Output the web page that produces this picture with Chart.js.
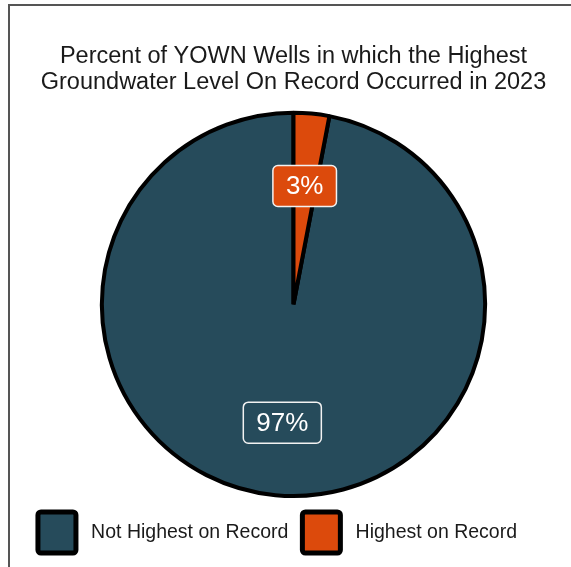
<!DOCTYPE html>
<html>
<head>
<meta charset="utf-8">
<script src="https://cdn.jsdelivr.net/npm/chart.js@4"></script>
<style>
  html, body { margin: 0; padding: 0; background: #fff; }
  #wrap { position: relative; width: 571px; height: 567px; }
  #frame {
    position: absolute; left: 8px; top: 4px; right: -10px; bottom: -10px;
    border-left: 2px solid #555; border-top: 2px solid #555;
  }
  canvas { position: absolute; left: 0; top: 0; }
</style>
</head>
<body>
<div id="wrap">
  <div id="frame"></div>
  <canvas id="pieChart" width="571" height="567"></canvas>
</div>
<script>
// Data
const categories = ["Not Highest on Record", "Highest on Record"];
const percents = [97, 3];
const sliceColors = ["#264b5b", "#dc4a0c"];
const titleLines = [
  "Percent of YOWN Wells in which the Highest",
  "Groundwater Level On Record Occurred in 2023",
];

// Boxed percent labels inside each slice
const boxLabels = {
  id: "boxLabels",
  afterDatasetsDraw(chart) {
    const ctx = chart.ctx;
    const meta = chart.getDatasetMeta(0);
    ctx.save();
    ctx.font = "26px 'Liberation Sans', Arial, sans-serif";
    ctx.textAlign = "center";
    ctx.textBaseline = "middle";
    meta.data.forEach((arc, i) => {
      const p = arc.getProps(["x", "y", "startAngle", "endAngle", "outerRadius"], true);
      const mid = (p.startAngle + p.endAngle) / 2;
      const r = p.outerRadius * 0.62;
      const x = p.x + Math.cos(mid) * r;
      const y = p.y + Math.sin(mid) * r;
      const text = percents[i] + "%";
      const w = ctx.measureText(text).width + 26;
      const h = 41;
      ctx.beginPath();
      ctx.roundRect(x - w / 2, y - h / 2, w, h, 5);
      ctx.fillStyle = sliceColors[i];
      ctx.fill();
      ctx.lineWidth = 1.5;
      ctx.strokeStyle = "#f2f2f2";
      ctx.stroke();
      ctx.fillStyle = "#ffffff";
      ctx.fillText(text, x, y + 1);
    });
    ctx.restore();
  },
};

// the legend sits a little left of the pie in the original
const shiftLegend = {
  id: "shiftLegend",
  afterLayout(chart) {
    chart.legend.left -= 16;
    chart.legend.right -= 16;
  },
};

const ctx = document.getElementById("pieChart").getContext("2d");
new Chart(ctx, {
  type: "pie",
  data: {
    labels: categories,
    datasets: [
      {
        data: percents,
        backgroundColor: sliceColors,
        borderColor: "#000000",
        borderWidth: 4,
      },
    ],
  },
  options: {
    responsive: false,
    animation: false,
    rotation: (percents[1] / 100) * 360,
    layout: { padding: { left: 16, right: 0, top: 44, bottom: 4 } },
    plugins: {
      title: {
        display: true,
        text: titleLines,
        color: "#1a1a1a",
        font: { family: "'Liberation Sans', Arial, sans-serif", size: 23.5, weight: "normal", lineHeight: 1.1 },
        padding: { top: 0, bottom: 15 },
      },
      legend: {
        position: "bottom",
        labels: {
          color: "#1a1a1a",
          font: { family: "'Liberation Sans', Arial, sans-serif", size: 19.5 },
          boxWidth: 38,
          boxHeight: 41,
          padding: 14,
          useBorderRadius: true,
          borderRadius: 3,
          generateLabels(chart) {
            const items = Chart.overrides.pie.plugins.legend.labels.generateLabels(chart);
            items.forEach((it) => { it.text = " " + it.text; it.lineWidth = 5; });
            return items;
          },
        },
      },
      tooltip: { enabled: false },
    },
  },
  plugins: [boxLabels, shiftLegend],
});
</script>
</body>
</html>
